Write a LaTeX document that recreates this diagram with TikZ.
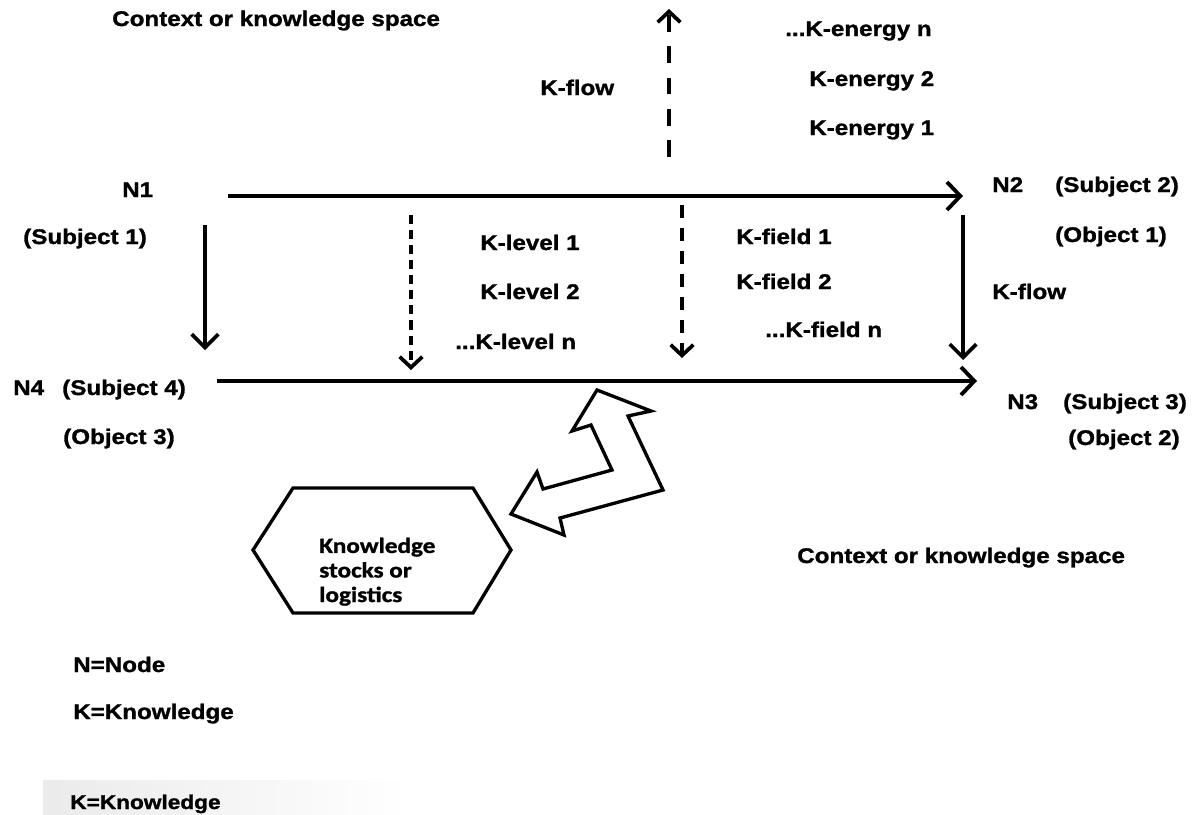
\documentclass[tikz,border=0pt]{standalone}
\usepackage{fontspec}
\usetikzlibrary{arrows.meta}
\newfontfamily\lblfont{Liberation Sans}[FakeStretch=1.14,FakeBold=1.3]
\newfontfamily\hexfont{Carlito}[FakeStretch=1.16,FakeBold=1.2]

\tikzset{
  lbl/.style={font=\lblfont\bfseries\fontsize{15.9}{18}\selectfont, anchor=base west, inner sep=0pt},
  smalllbl/.style={font=\lblfont\bfseries\fontsize{14.9}{17}\selectfont, anchor=base west, inner sep=0pt},
  hextext/.style={font=\hexfont\bfseries\fontsize{16.3}{18.4}\selectfont, anchor=base west, inner sep=0pt, align=left},
  flowline/.style={line width=2.7pt, -{Straight Barb[length=10pt,width=20pt]}},
  edgeline/.style={line width=2.9pt, -{Straight Barb[length=10pt,width=21pt]}},
  updash/.style={line width=3.6pt, dash pattern=on 12.5pt off 11pt, -{Straight Barb[length=8pt,width=17pt,line width=2.8pt]}},
  leveldash/.style={line width=2.8pt, dash pattern=on 6.8pt off 4.5pt, -{Straight Barb[length=8pt,width=17pt,line width=2.8pt]}},
  fielddash/.style={line width=3.2pt, dash pattern=on 9.8pt off 7.5pt, -{Straight Barb[length=8pt,width=17pt,line width=2.8pt]}},
  outline/.style={line width=2.5pt, line join=miter}
}

\begin{document}
\begin{tikzpicture}[x=0.75pt, y=-0.75pt]
\useasboundingbox (0,0) rectangle (1203,814);

% soft grey strip behind the last legend line
\shade[left color=black!8, right color=white] (43,780) rectangle (410,814);

% labels
\node[lbl] (ctxA) at (112,26) {Context or knowledge space};
\node[lbl] (kflowA) at (540,95) {K-flow};
\node[lbl] (ken) at (785,36) {...K-energy n};
\node[lbl] (ke2) at (809,86) {K-energy 2};
\node[lbl] (ke1) at (809,135) {K-energy 1};

\node[lbl] (n1) at (122,197) {N1};
\node[lbl] (subj1) at (23,244) {(Subject 1)};
\node[lbl] (n2) at (992,192) {N2};
\node[lbl] (subj2) at (1055,192) {(Subject 2)};
\node[lbl] (obj1) at (1055,242) {(Object 1)};

\node[lbl] (kl1) at (480,250) {K-level 1};
\node[lbl] (kl2) at (480,299) {K-level 2};
\node[lbl] (kln) at (455,349) {...K-level n};

\node[lbl] (kf1) at (736,244) {K-field 1};
\node[lbl] (kf2) at (736,289) {K-field 2};
\node[lbl] (kfn) at (765,337) {...K-field n};

\node[lbl] (kflowB) at (992,299) {K-flow};

\node[lbl] (n4) at (13,395) {N4};
\node[lbl] (subj4) at (62,395) {(Subject 4)};
\node[lbl] (obj3) at (63,444) {(Object 3)};
\node[lbl] (n3) at (1007,409) {N3};
\node[lbl] (subj3) at (1063,409) {(Subject 3)};
\node[lbl] (obj2) at (1068,445) {(Object 2)};

\node[lbl] (ctxB) at (797,563) {Context or knowledge space};
\node[lbl] (legN) at (73,672) {N=Node};
\node[lbl] (legK) at (73,719) {K=Knowledge};
\node[smalllbl] (legK2) at (70,809) {K=Knowledge};

% connector end points
\coordinate (topS) at (228,196);
\coordinate (topE) at (963,196);
\coordinate (botS) at (217,381);
\coordinate (botE) at (977,381);
\coordinate (leftS) at (205,225);
\coordinate (leftE) at (205,350);
\coordinate (rightS) at (963,215);
\coordinate (rightE) at (963,360);
\coordinate (upS) at (669,157);
\coordinate (upE) at (669,9);
\coordinate (lvS) at (411,215);
\coordinate (lvE) at (411,370);
\coordinate (fdS) at (682,205);
\coordinate (fdE) at (682,358);

% knowledge flows between the nodes
\draw[edgeline] (topS) -- (topE);
\draw[edgeline] (botS) -- (botE);
\draw[flowline] (leftS) -- (leftE);
\draw[flowline] (rightS) -- (rightE);

% dashed energy, level and field arrows
\draw[updash] (upS) -- (upE);
\draw[leveldash] (lvS) -- (lvE);
\draw[fielddash] (fdS) -- (fdE);

% knowledge stocks hexagon
\draw[outline] (253,550) -- (293,488) -- (473,488) -- (511,550) -- (473,613) -- (293,613) -- cycle;
\node[hextext] (stocks) at (319,602) {Knowledge\\stocks or\\logistics};

% bent two-headed block arrow
\draw[outline] (597,390) -- (651,411) -- (628,416) -- (663,490) -- (560,518) -- (564,535)
  -- (511,514) -- (537,472) -- (543,489) -- (612,470) -- (591,425) -- (572,431) -- cycle;

\end{tikzpicture}
\end{document}
